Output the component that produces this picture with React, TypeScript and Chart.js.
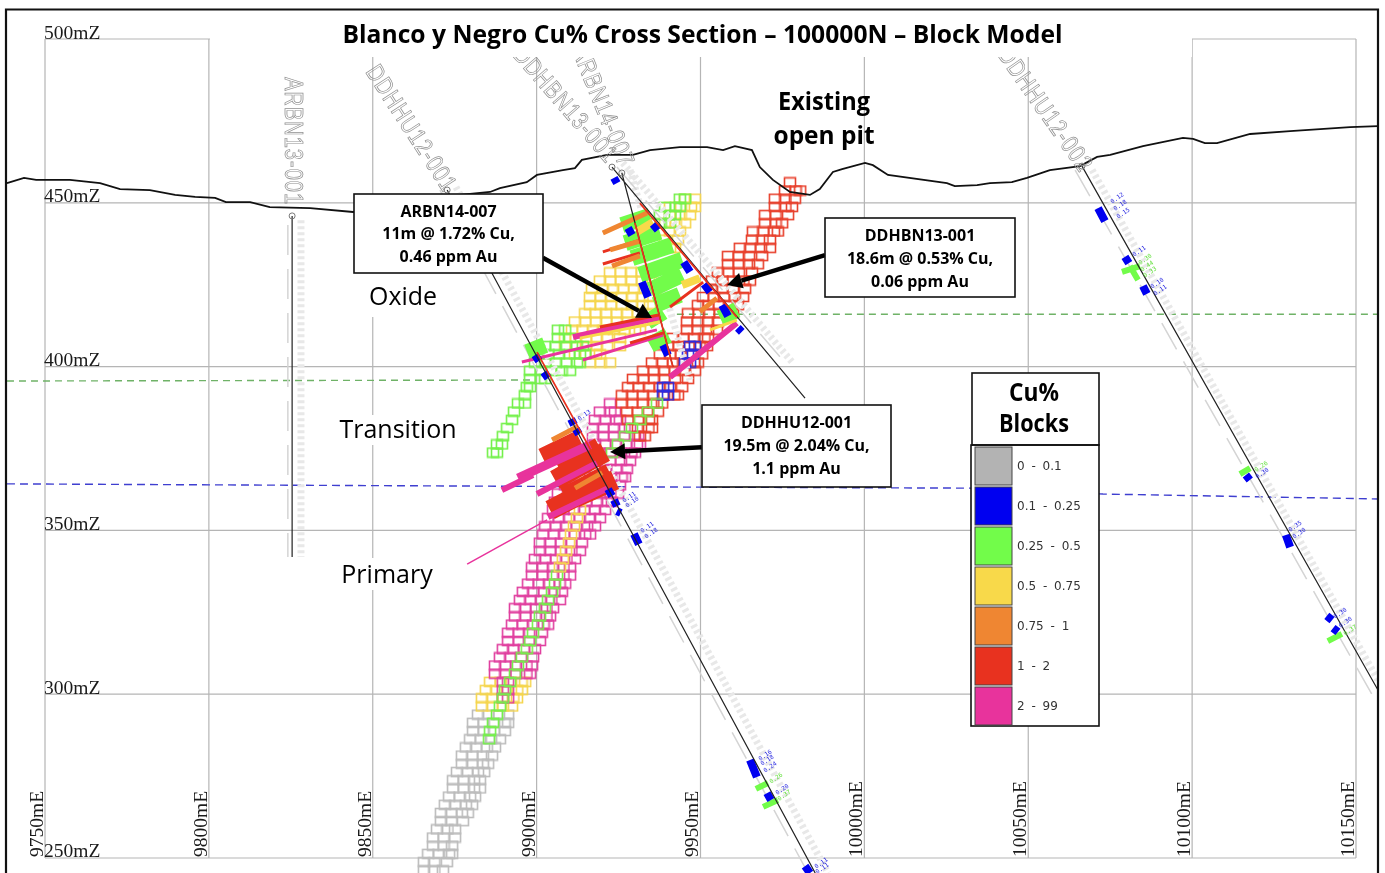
import React, { useEffect, useRef } from "react";
import { Chart, registerables } from "chart.js";

Chart.register(...registerables);

type Row = number[];
type Seg = number[];

const eastTicks = [9750, 9800, 9850, 9900, 9950, 10000, 10050, 10100, 10150];
const elevTicks = [250, 300, 350, 400, 450, 500];

const surface: number[][] = [
  [9738.4, 456], [9743.6, 457.6], [9747.3, 457], [9757.6, 457], [9766.8, 456], [9772.9, 454.2], [9782, 453.9],
  [9789.7, 452.4], [9795.8, 451.8], [9801.9, 451.5], [9805.2, 450.2], [9812.6, 450.2], [9818.6, 448.7],
  [9830.9, 448.4], [9844, 447.2], [9870.5, 451.8], [9885.8, 453.3], [9888.8, 454.5], [9897, 456.3], [9900.1, 458.5],
  [9908, 460], [9911.7, 460.6], [9913.8, 463.1], [9921.5, 464.6], [9929.4, 464.6], [9934.6, 466.1], [9943.7, 467],
  [9952, 467], [9956.9, 466.1], [9960.5, 467.3], [9965.7, 466.1], [9968.1, 460.9], [9972.1, 457], [9977.3, 453.3],
  [9983.4, 452.4], [9986.4, 454.2], [9990.4, 459.4], [9993.2, 460.3], [10000.2, 462.2], [10002.6, 461.5],
  [10007.2, 458.5], [10025.2, 456], [10027.6, 455.1], [10034.4, 455.4], [10038.3, 456], [10045, 456.3],
  [10049.6, 457.6], [10056.6, 460], [10065.8, 461.2], [10071, 464], [10075, 464.6], [10085, 467.3], [10097.2, 469.8],
  [10100.3, 469.5], [10103.9, 468.2], [10107.6, 468.2], [10117.7, 471], [10129.9, 471.9], [10148.2, 473.1], [10156.7, 473.4],
];

const oxideLeft = [[9738.4, 395.6], [9899.5, 395.9]];
const oxideRight = [[9942.8, 416], [10156.7, 416]];
const primaryBoundary = [[9738.4, 364.2], [9949.8, 363.2], [10032.2, 362.9], [10072.8, 361.1], [10156.7, 359.6]];

// block rows: elevation, first easting, last easting
const grayRows: Row[] = [
  [293.75, 9882.1, 9891.3], [291.25, 9880.6, 9891.3], [288.75, 9880.6, 9890.3], [286.25, 9879.7, 9888.8],
  [283.75, 9878.4, 9887.3], [281.25, 9877.2, 9886.4], [278.75, 9877.2, 9885.2], [276.25, 9875.7, 9884],
  [273.75, 9874.5, 9882.7], [271.25, 9874.5, 9882.7], [268.75, 9873.3, 9881.2], [266.25, 9872, 9880.3],
  [263.75, 9870.8, 9879], [261.25, 9870.8, 9877.5], [258.75, 9869.6, 9875.1], [256.25, 9868.4, 9875.1],
  [253.75, 9868.4, 9874.2], [251.25, 9866.9, 9874.2], [248.75, 9865.6, 9872.6], [246.25, 9865.6, 9871.4],
];
const yellowRows: Row[] = [
  [303.75, 9885.8, 9896.5], [301.25, 9884.5, 9895.5], [298.75, 9883.3, 9894], [296.25, 9883.3, 9892.5],
  [428.75, 9922.4, 9937.6], [426.25, 9919.3, 9937.6], [423.75, 9916.9, 9937.6], [421.25, 9916.3, 9934.6],
  [418.75, 9916.3, 9934.6], [416.25, 9914.8, 9934.6], [413.75, 9911.7, 9931.5], [411.25, 9910.8, 9931.5],
  [408.75, 9908.7, 9925.4], [406.25, 9908.7, 9925.4], [403.75, 9911.7, 9919.3], [401.25, 9916.3, 9922.4],
  [451.25, 9945.3, 9948.3], [448.75, 9940.7, 9948.3], [446.25, 9940.7, 9946.8], [443.75, 9939.2, 9945.3],
  [441.25, 9940.7, 9943.7], [438.75, 9939.2, 9943.1], [436.25, 9940.7, 9942.2],
];
const greenRows: Row[] = [
  [373.75, 9886.7, 9887.9], [376.25, 9887.9, 9889.4], [378.75, 9889.7, 9889.7], [381.25, 9891, 9891],
  [383.75, 9892.5, 9892.5], [386.25, 9893.1, 9893.1], [388.75, 9894.3, 9896.4], [391.25, 9895.8, 9896.4],
  [393.75, 9897, 9898], [396.25, 9898, 9902.6], [398.75, 9898, 9910.2], [401.25, 9899.5, 9913.2],
  [403.75, 9900.4, 9914.8], [406.25, 9902.6, 9914.1], [408.75, 9906.5, 9910.2], [411.25, 9906.5, 9908.7],
  [451.25, 9943.7, 9945.3], [448.75, 9939.2, 9943.7], [446.25, 9937.6, 9942.2], [443.75, 9934.6, 9940.7],
];
const pinkRows: Row[] = [
  [388.75, 9922.4, 9922.4], [386.25, 9919.3, 9923.9], [383.75, 9917.8, 9925.4], [381.25, 9917.2, 9928.5],
  [378.75, 9917.2, 9931], [376.25, 9917.8, 9931.5], [373.75, 9919.3, 9930], [371.25, 9919.3, 9928.5],
  [368.75, 9918, 9927.5], [366.25, 9916.3, 9927], [363.75, 9908.7, 9925.4], [361.25, 9906.5, 9924.8],
  [358.75, 9905.6, 9923], [356.25, 9905, 9920.9], [353.75, 9903.5, 9919.3], [351.25, 9902.6, 9917.8],
  [348.75, 9902, 9916.3], [346.25, 9901, 9913.8], [343.75, 9901, 9913.2], [341.25, 9899.5, 9911.7],
  [338.75, 9898.6, 9910.2], [336.25, 9898.6, 9910.2], [333.75, 9897.4, 9908.7], [331.25, 9895.8, 9907.7],
  [328.75, 9894.9, 9907.1], [326.25, 9893.4, 9905], [323.75, 9893.4, 9904.1], [321.25, 9892.5, 9903.5],
  [318.75, 9891.3, 9901.6], [316.25, 9891.3, 9901], [313.75, 9889.7, 9899.5], [311.25, 9888.8, 9898.9],
  [308.75, 9887.3, 9898.6], [306.25, 9887.3, 9898], [303.75, 9889.7, 9891.3], [301.25, 9889.7, 9891.3],
  [298.75, 9889.7, 9891.3],
];
const redRows: Row[] = [
  [456.25, 9977.3, 9977.3], [453.75, 9975.8, 9980.4], [451.25, 9972.7, 9978.8], [448.75, 9972.7, 9977.9],
  [446.25, 9969.7, 9976.7], [443.75, 9969.7, 9974.9], [441.25, 9966, 9973.6], [438.75, 9965.7, 9971.2],
  [436.25, 9962, 9971.2], [433.75, 9958.4, 9968.8], [431.25, 9958.4, 9967.5], [428.75, 9955.3, 9965.7],
  [426.25, 9953.5, 9965.1], [423.75, 9953.5, 9963.6], [421.25, 9950.8, 9963], [418.75, 9949.2, 9961.4],
  [416.25, 9946.2, 9959.9], [413.75, 9945.9, 9955.3], [411.25, 9945.9, 9955], [408.75, 9941.6, 9952.3],
  [406.25, 9940.1, 9952], [403.75, 9937.6, 9950.5], [401.25, 9935.2, 9949.2], [398.75, 9932.5, 9948.3],
  [396.25, 9929.4, 9946.2], [393.75, 9927.9, 9944.4], [391.25, 9926, 9943.1], [388.75, 9926, 9938.3],
  [386.25, 9927.6, 9937], [383.75, 9927.9, 9935.2], [381.25, 9930.9, 9935.2], [378.75, 9931.5, 9933],
];
const veinGreenRows: Row[] = [
  [286.25, 9885.5, 9885.5], [288.75, 9885.8, 9885.8], [291.25, 9886.7, 9886.7], [293.75, 9887.9, 9887.9],
  [296.25, 9888.8, 9888.8], [298.75, 9889.7, 9889.7], [301.25, 9890.3, 9890.3], [303.75, 9891.9, 9891.9],
  [306.25, 9893.4, 9893.4], [308.75, 9894.3, 9894.3], [311.25, 9895.5, 9895.5], [313.75, 9897, 9897],
  [316.25, 9898, 9898], [318.75, 9898.9, 9898.9], [321.25, 9900.4, 9900.4], [323.75, 9901, 9901],
  [326.25, 9902.5, 9902.5], [328.75, 9903.5, 9903.5], [331.25, 9904.7, 9904.7], [333.75, 9905.6, 9905.6],
  [336.25, 9906.2, 9906.2], [373.75, 9923, 9923], [376.25, 9924.8, 9924.8], [378.75, 9927, 9927],
  [381.25, 9929.1, 9929.1], [383.75, 9931.6, 9931.6], [386.25, 9934, 9934], [388.75, 9936.7, 9936.7],
];
const veinYellowRows: Row[] = [
  [338.75, 9907.1, 9907.1], [341.25, 9908, 9908], [343.75, 9909, 9909], [346.25, 9909.9, 9909.9],
  [348.75, 9910.5, 9910.5], [351.25, 9911.4, 9911.4], [353.75, 9912.3, 9912.3], [356.25, 9913.2, 9913.2],
];
const blueRows: Row[] = [
  [391.25, 9938.6, 9940.1], [393.75, 9938.6, 9940.1], [406.25, 9946.8, 9948.3], [403.75, 9946.2, 9947.7], [401.25, 9945.3, 9946.8],
];

// assay bars: easting, elevation, easting, elevation
const greenBars: Seg[] = [
  [9926, 443.2, 9934.6, 446], [9927, 437.7, 9937.6, 441.1], [9929.1, 433.1, 9941.3, 437.1], [9931.5, 428, 9944.4, 432.6],
  [9934.6, 423.4, 9944.4, 428], [9936.1, 418.8, 9943.7, 421.9], [9933.7, 413.6, 9938.6, 416.7], [9934.6, 406.6, 9940.1, 409.6],
  [9956, 414.8, 9961.1, 417.3], [9897.1, 404.4, 9902.6, 406.6],
];
const greenSmallBars: Seg[] = [
  [10078.6, 428.9, 10084.1, 430.7], [10081, 430.7, 10083.5, 426.4], [10114.6, 367.2, 10117.7, 369],
  [10141.4, 316.2, 10145.7, 318.4], [9966.9, 271.1, 9970.6, 272.9], [9969.1, 265.6, 9973.6, 267.7],
];
const blueBars: Seg[] = [
  [9923.6, 457.6, 9924.5, 456], [9927.9, 442.3, 9929.1, 440.2], [9935.5, 443.5, 9937, 441.7], [9932.1, 425.8, 9934, 421.2],
  [9944.9, 431.9, 9946.8, 428.9], [9951.1, 425.2, 9952.9, 422.8], [9956.6, 418.8, 9958.4, 415.4], [9938.6, 406.6, 9940.1, 403.5],
  [9961.4, 411.8, 9962.6, 410.6], [9899.5, 403.5, 9900.7, 401.7], [9902.2, 398.3, 9903.5, 396.5], [9910.5, 384, 9911.4, 382.2],
  [9912, 380.9, 9912.9, 379.4], [9921.8, 362.6, 9923, 360.5], [9923.6, 359.3, 9924.5, 357.4], [9924.5, 355.9, 9925.7, 355.3],
  [9929.7, 348.9, 9931.2, 345.8], [9965.1, 279.9, 9967.2, 274.7], [9970.3, 269.8, 9971.5, 267.7], [9981.9, 247.5, 9983.4, 245.4],
  [10071.3, 448.4, 10073.4, 444.4], [10079.5, 433.5, 10080.7, 431.6], [10085, 424.6, 10086.2, 422.2], [10116.4, 366.9, 10117.6, 365.4],
  [10128.6, 348.6, 10129.9, 344.9], [10141.1, 323.9, 10142.7, 322.6], [10143, 320.2, 10144.5, 319],
];
const redWideBars: Seg[] = [
  [9901.9, 372.1, 9913.2, 377.6], [9905.6, 365.4, 9920.9, 373.9], [9907.1, 368.5, 9919.3, 375.4],
  [9908.7, 360.2, 9922.4, 367.5], [9904.1, 356.2, 9923, 366], [9911.7, 359.9, 9923.9, 365.4],
];
const redThinBars: Seg[] = [
  [9919.3, 412.1, 9937.6, 415.8], [9928.5, 407.2, 9938.6, 410.3], [9940.7, 418.2, 9950.8, 425.8],
  [9920.2, 435, 9931.5, 438.6], [9920.2, 431.3, 9931.5, 434.7],
];
const pinkWideBars: Seg[] = [[9894.3, 366, 9916.3, 376.1]];
const pinkMidBars: Seg[] = [
  [9900.1, 361.1, 9918.4, 370.6], [9903.5, 354.1, 9921.8, 362.9], [9889.4, 362.3, 9898.9, 366.9],
  [9911.1, 409, 9937.6, 415.1], [9940.7, 396.8, 9961.1, 413.3],
];
const pinkThinBars: Seg[] = [[9895.5, 401.4, 9936.7, 411.2], [9914.1, 402, 9938.6, 409.6]];
const pinkHairBars: Seg[] = [[9878.8, 339.7, 9903.2, 353.2]];
const orangeBars: Seg[] = [
  [9904.7, 377.6, 9912.3, 381.6], [9911.7, 362.9, 9920.3, 367.8], [9949.8, 416.7, 9955, 420.9],
  [9920.2, 440.8, 9933.7, 446.9], [9922.4, 435.6, 9931.5, 438.3], [9923, 430.7, 9931.5, 433.8],
];
const yellowWideBars: Seg[] = [[9944.4, 424.9, 9949.8, 427], [9930.6, 441.1, 9935.5, 444.1]];
const yellowThinBars: Seg[] = [[9913.2, 408.7, 9937.6, 413.6], [9952.9, 411.2, 9961.1, 414.2]];

// drill holes
const holes: Seg[] = [
  [9872.7, 453.9, 9985, 245.4], [9923, 460.9, 9981.9, 390.4], [9926, 459.1, 9941.6, 399.9],
  [9825.4, 446, 9825.4, 341.9], [10066.4, 461.2, 10156.7, 301.3],
];
const holeRedRuns: Seg[] = [[9900.1, 404.4, 9922.4, 363.8], [9931.5, 449.9, 9961.1, 415.1], [9930, 443.8, 9941.6, 399.9]];
const assayStripes: Seg[] = [
  [9875.4, 454.8, 9988.9, 245.4], [9926.3, 462.2, 9978.2, 401.1], [9928.5, 460, 9946.8, 395.9],
  [9828.1, 444.7, 9828.1, 341.9], [10069.5, 460, 10156.7, 304.3],
];
const holeTraces: Seg[] = [
  [9870.5, 453.9, 9982.8, 245.4], [9924.5, 460.9, 9976.4, 400.5], [9824.1, 443.2, 9824.1, 341.9], [10064.3, 460, 10156.7, 296.7],
];
const collars = [[9872.7, 453.9], [9923, 460.9], [9926, 459.1], [9825.4, 446], [10066.4, 461.2]];
const arrows: Seg[] = [
  [9901.9, 433.2, 9935.2, 414.8], [9988, 434, 9958.1, 424.9], [9950.4, 375.4, 9922.4, 373.9],
];

// assay labels beside the holes: easting, elevation, grade
const blueAssays: number[][] = [
  [10077.4, 451.5, 0.12], [10078.3, 449.3, 0.18], [10079.2, 446.9, 0.15], [10084.1, 435.3, 0.11], [10089.6, 425.5, 0.1],
  [10090.5, 423.4, 0.11], [10121.6, 367.5, 0.3], [10131.7, 351.3, 0.35], [10132.9, 349.2, 0.3], [10145.4, 324.8, 0.3],
  [10147, 322, 0.3], [9970, 281.4, 0.16], [9970.6, 279.9, 0.18], [9971.5, 277.8, 0.24], [9975.2, 271, 0.2],
  [9987.1, 248.5, 0.11], [9987.4, 246.9, 0.11], [9914.8, 385.2, 0.13], [9928.5, 360.2, 0.11], [9929.4, 358.7, 0.1],
  [9934, 351, 0.11], [9935.2, 349.2, 0.18],
];
const greenAssays: number[][] = [
  [10085.9, 432.8, 0.3], [10086.5, 430.7, 0.44], [10087.4, 428.9, 0.33], [10121.3, 369.6, 0.26],
  [10148.5, 319.6, 0.37], [9973.3, 274.4, 0.26], [9975.8, 269.2, 0.37],
];

const holeNames = ["ARBN13-001", "DDHHU12-001", "DDHBN13-001", "ARBN14-007", "DDHHU12-002"];
const legendLabels = ["0 - 0.1", "0.1 - 0.25", "0.25 - 0.5", "0.5 - 0.75", "0.75 - 1", "1 - 2", "2 - 99"];
const legendColors = ["#b3b3b3", "#0000f0", "#72fc4a", "#f8d94a", "#ef8632", "#e8321f", "#e8339c"];
const calloutText = [
  ["ARBN14-007", "11m @ 1.72% Cu,", "0.46 ppm Au"],
  ["DDHBN13-001", "18.6m @ 0.53% Cu,", "0.06 ppm Au"],
  ["DDHHU12-001", "19.5m @ 2.04% Cu,", "1.1 ppm Au"],
];
const titleText = "Blanco y Negro Cu% Cross Section \u2013 100000N \u2013 Block Model";

const CELL_STEP = 3.2;
const GRID = "#b5b5b5";
const HUMANIST = '"Open Sans", "Noto Sans", sans-serif';

function cellImage(color: string) {
  const c = document.createElement("canvas");
  c.width = 14;
  c.height = 12;
  const g = c.getContext("2d") as CanvasRenderingContext2D;
  g.strokeStyle = color;
  g.lineWidth = 1.6;
  g.strokeRect(1.5, 1.5, 11, 9);
  return c;
}
function cells(rows: Row[]) {
  const out: { x: number; y: number }[] = [];
  for (const [z, l, r] of rows) {
    let e = l;
    while (e < r - 0.8) {
      out.push({ x: e, y: z });
      e += CELL_STEP;
    }
    out.push({ x: r, y: z });
  }
  return out;
}
function segs(list: Seg[]) {
  const out: { x: number; y: number }[] = [];
  for (const [a, b, c, d] of list) {
    out.push({ x: a, y: b }, { x: c, y: d }, { x: NaN, y: NaN });
  }
  return out;
}
const line = (pts: { x: number; y: number }[], color: string, width: number, dash: number[] = []) => ({
  data: pts,
  showLine: true,
  borderColor: color,
  borderWidth: width,
  borderDash: dash,
  borderCapStyle: "butt",
  pointRadius: 0,
  tension: 0,
  spanGaps: false,
  fill: false,
});
const hatch = (rows: Row[], color: string) => ({
  data: cells(rows),
  showLine: false,
  pointStyle: cellImage(color),
  pointRadius: 7,
});
const xy = (list: number[][]) => list.map(([x, y]) => ({ x, y }));

function buildDatasets() {
  const top = elevTicks[elevTicks.length - 1];
  const bottom = elevTicks[0];
  const left = eastTicks[0];
  const right = eastTicks[eastTicks.length - 1];
  const grid: Seg[] = [
    ...eastTicks.map((e) => [e, top, e, bottom]),
    ...elevTicks.map((z) => [left, z, right, z]),
  ];
  const painted: any[] = [
    line(segs(grid), GRID, 1.2),
    line(xy(oxideLeft), "#6fb267", 1.4, [7, 5]),
    line(xy(oxideRight), "#6fb267", 1.4, [7, 5]),
    line(xy(primaryBoundary), "#3f3fd0", 1.4, [8, 5]),
    hatch(grayRows, "#bcbcbc"),
    hatch(yellowRows, "#f5d54e"),
    hatch(greenRows, "#74f04a"),
    hatch(pinkRows, "#e0409f"),
    hatch(redRows, "#e8402c"),
    hatch(blueRows, "#2a2ae0"),
    hatch(veinGreenRows, "#74f04a"),
    hatch(veinYellowRows, "#f5d54e"),
    line(segs(assayStripes), "#e8e8e8", 7, [3, 3]),
    line(segs(holeTraces), "#d4d4d4", 1.5, [30, 14]),
    line(segs(greenBars), legendColors[2], 16),
    line(segs(redWideBars), legendColors[5], 20),
    line(segs(pinkWideBars), legendColors[6], 9),
    line(segs(pinkMidBars), legendColors[6], 6),
    line(segs(pinkThinBars), legendColors[6], 3),
    line(segs(pinkHairBars), legendColors[6], 1.5),
    line(segs(redThinBars), legendColors[5], 3),
    line(segs(orangeBars), legendColors[4], 5),
    line(segs(yellowWideBars), legendColors[3], 8),
    line(segs(yellowThinBars), legendColors[3], 3),
    line(segs(greenSmallBars), legendColors[2], 6),
    line(segs(blueBars), legendColors[1], 8),
    line(xy(surface), "#111111", 1.8),
    line(segs(holes), "#222222", 1.2),
    line(segs(holeRedRuns), "#e8321f", 1.8),
    {
      data: xy(collars),
      showLine: false,
      pointStyle: "circle",
      pointRadius: 3,
      pointBackgroundColor: "rgba(0,0,0,0)",
      pointBorderColor: "#777777",
      pointBorderWidth: 1,
    },
  ];
  return painted.reverse();
}

const sheet = {
  id: "sheet",
  afterDatasetsDraw(chart: any) {
    const ctx: CanvasRenderingContext2D = chart.ctx;
    const sx = chart.scales.x;
    const sy = chart.scales.y;
    const px = (e: number) => sx.getPixelForValue(e);
    const py = (z: number) => sy.getPixelForValue(z);
    ctx.save();

    // tiny assay grades
    ctx.font = '6px "DejaVu Sans Mono", monospace';
    ctx.textAlign = "left";
    ctx.textBaseline = "middle";
    const assay = (list: number[][], color: string) => {
      ctx.fillStyle = color;
      list.forEach(([e, z, g]) => {
        ctx.save();
        ctx.translate(px(e), py(z));
        ctx.rotate(-0.6);
        ctx.fillText(g.toFixed(2), -8, 0);
        ctx.restore();
      });
    };
    assay(blueAssays, "#2a2ae0");
    assay(greenAssays, "#66e040");

    const whites = [
      [354, 273, 96, 44],
      [340, 415, 115, 30],
      [340, 558, 95, 32],
    ];
    ctx.fillStyle = "#ffffff";
    whites.forEach(([x, y, w, h]) => ctx.fillRect(x, y, w, h));

    // rotated hole names
    ctx.strokeStyle = "#8f8f8f";
    ctx.lineWidth = 0.6;
    ctx.font = '20px "Liberation Sans", sans-serif';
    (ctx as any).letterSpacing = "1px";
    ctx.textAlign = "right";
    ctx.textBaseline = "middle";
    const anchors = [
      [292, 205, 90],
      [450, 190, 57],
      [612, 160, 49],
      [626, 166, 68],
      [1086, 170, 55],
    ];
    holeNames.forEach((name, i) => {
      const [x, y, a] = anchors[i];
      ctx.save();
      ctx.translate(x, y);
      ctx.rotate((a * Math.PI) / 180);
      ctx.scale(1, 1.25);
      ctx.strokeText(name, 0, 0);
      ctx.restore();
    });
    (ctx as any).letterSpacing = "0px";

    // arrows
    ctx.strokeStyle = "#000000";
    ctx.fillStyle = "#000000";
    arrows.forEach(([a, b, c, d]) => {
      const x0 = px(a), y0 = py(b), x1 = px(c), y1 = py(d);
      const ang = Math.atan2(y1 - y0, x1 - x0);
      const hl = 15, hw = 8;
      ctx.lineWidth = 4.5;
      ctx.beginPath();
      ctx.moveTo(x0, y0);
      ctx.lineTo(x1 - hl * Math.cos(ang), y1 - hl * Math.sin(ang));
      ctx.stroke();
      ctx.beginPath();
      ctx.moveTo(x1, y1);
      ctx.lineTo(x1 - hl * Math.cos(ang) - hw * Math.sin(ang), y1 - hl * Math.sin(ang) + hw * Math.cos(ang));
      ctx.lineTo(x1 - hl * Math.cos(ang) + hw * Math.sin(ang), y1 - hl * Math.sin(ang) - hw * Math.cos(ang));
      ctx.closePath();
      ctx.fill();
    });

    // title backing and margins
    ctx.fillStyle = "#ffffff";
    ctx.fillRect(210, 10, 982, 47);
    ctx.fillRect(1378, 0, 7, 873);
    ctx.fillRect(0, 0, 6, 873);
    ctx.fillRect(0, 0, 1385, 9);

    // frame
    ctx.strokeStyle = "#111111";
    ctx.lineWidth = 2.2;
    ctx.beginPath();
    ctx.moveTo(6, 873);
    ctx.lineTo(6, 9.5);
    ctx.lineTo(1378, 9.5);
    ctx.lineTo(1378, 873);
    ctx.stroke();

    // axis labels
    ctx.fillStyle = "#1a1a1a";
    ctx.font = '19.5px "Liberation Serif", serif';
    ctx.textAlign = "left";
    ctx.textBaseline = "alphabetic";
    elevTicks.forEach((z) => ctx.fillText(`${z}mZ`, px(eastTicks[0]) - 1, py(z) - 0.5));
    eastTicks.forEach((e) => {
      ctx.save();
      ctx.translate(px(e) - 2, py(elevTicks[0]) - 1);
      ctx.rotate(-Math.PI / 2);
      ctx.fillText(`${e}mE`, 0, 0);
      ctx.restore();
    });

    // title and free text
    ctx.fillStyle = "#000000";
    ctx.textAlign = "center";
    ctx.textBaseline = "middle";
    ctx.font = `bold 25px ${HUMANIST}`;
    ctx.fillText(titleText, 702.5, 36, 720);
    ctx.fillText("Existing", 824, 103, 92);
    ctx.fillText("open pit", 824, 137, 101);
    ctx.font = `25px ${HUMANIST}`;
    ctx.fillText("Oxide", 403, 298, 68);
    ctx.fillText("Transition", 398, 431, 117);
    ctx.fillText("Primary", 387, 576, 93);

    // callouts
    const boxes = [
      [354, 194, 189, 79, 448.5, 212, 234.5, 257],
      [825, 218, 190, 79, 920, 236, 259, 282],
      [702, 405, 189, 82, 796.5, 423, 446, 469],
    ];
    boxes.forEach((b, i) => {
      ctx.fillStyle = "#ffffff";
      ctx.fillRect(b[0], b[1], b[2], b[3]);
      ctx.strokeStyle = "#111111";
      ctx.lineWidth = 1.6;
      ctx.strokeRect(b[0], b[1], b[2], b[3]);
      ctx.fillStyle = "#000000";
      ctx.font = `bold 16px ${HUMANIST}`;
      calloutText[i].forEach((t, k) => ctx.fillText(t, b[4], b[5 + k], 158));
    });

    // legend
    ctx.fillStyle = "#ffffff";
    ctx.fillRect(972, 373, 127, 72);
    ctx.fillRect(971, 445, 128, 281);
    ctx.strokeStyle = "#111111";
    ctx.lineWidth = 1.6;
    ctx.strokeRect(972, 373, 127, 72);
    ctx.strokeRect(971, 445, 128, 281);
    ctx.fillStyle = "#000000";
    ctx.font = `bold 25px ${HUMANIST}`;
    ctx.fillText("Cu%", 1034, 394, 50);
    ctx.fillText("Blocks", 1034, 425, 70);
    ctx.textAlign = "left";
    ctx.font = '12px "DejaVu Sans", sans-serif';
    legendLabels.forEach((t, i) => {
      const y = 447 + i * 40;
      ctx.fillStyle = legendColors[i];
      ctx.fillRect(975, y, 37, 38);
      ctx.strokeStyle = "#444444";
      ctx.lineWidth = 1;
      ctx.strokeRect(975, y, 37, 38);
      ctx.fillStyle = "#333333";
      (ctx as any).wordSpacing = "3px";
      ctx.fillText(t, 1017, y + 20);
      (ctx as any).wordSpacing = "0px";
    });
    ctx.restore();
  },
};

export default function App() {
  const ref = useRef<HTMLCanvasElement | null>(null);
  useEffect(() => {
    document.body.style.margin = "0";
    document.body.style.background = "#ffffff";
    const chart = new Chart(ref.current as HTMLCanvasElement, {
      type: "scatter",
      data: { datasets: buildDatasets() },
      options: {
        animation: false,
        responsive: false,
        layout: { padding: 0, autoPadding: false },
        plugins: { legend: { display: false }, title: { display: false }, tooltip: { enabled: false } },
        scales: {
          x: { type: "linear", min: 9736.27, max: 10158.85, display: false },
          y: { type: "linear", min: 245.42, max: 511.905, display: false },
        },
      },
      plugins: [sheet],
    } as any);
    return () => chart.destroy();
  }, []);
  return <canvas ref={ref} width={1385} height={873} style={{ display: "block" }} />;
}
